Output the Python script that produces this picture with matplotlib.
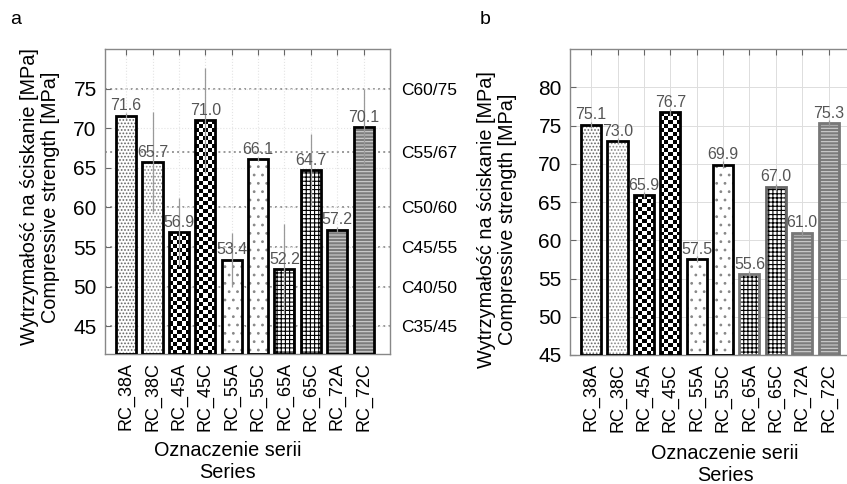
import numpy as np
import matplotlib
matplotlib.use("Agg")
import matplotlib.pyplot as plt

plt.rcParams['font.family'] = ['Liberation Sans', 'DejaVu Sans']
plt.rcParams['hatch.linewidth'] = 0.8

# data
series = ['RC_38A', 'RC_38C', 'RC_45A', 'RC_45C', 'RC_55A',
          'RC_55C', 'RC_65A', 'RC_65C', 'RC_72A', 'RC_72C']
strength_a = [71.6, 65.7, 56.9, 71.0, 53.4, 66.1, 52.2, 64.7, 57.2, 70.1]
error_a = [0.3, 6.3, 4.3, 6.6, 3.4, 0.3, 5.7, 4.6, 0.3, 4.8]
strength_b = [75.1, 73.0, 65.9, 76.7, 57.5, 69.9, 55.6, 67.0, 61.0, 75.3]
error_b = [0.4, 0.4, 0.4, 0.4, 0.4, 0.4, 0.4, 0.4, 0.4, 0.4]
class_levels = [45, 50, 55, 60, 67, 75]
class_labels = ['C35/45', 'C40/50', 'C45/55', 'C50/60', 'C55/67', 'C60/75']

# bar styles: (facecolor, hatch, hatch colour, checker)
STYLES = [
    ('white', '.....', '#666666', False),
    ('white', '.....', '#888888', False),
    ('white', None, None, True),
    ('white', None, None, True),
    ('white', '..', '#888888', False),
    ('white', '..', '#888888', False),
    ('white', '++++', 'black', False),
    ('white', '++++', 'black', False),
    ('#7c7c7c', '-----', '#d0d0d0', False),
    ('#7c7c7c', '-----', '#d0d0d0', False),
]

LABEL = 'Wytrzymałość na ściskanie [MPa]\nCompressive strength [MPa]'
XLABEL = 'Oznaczenie serii\nSeries'


def checker_fill(ax, bar, ppu):
    # checkerboard texture clipped to one bar
    x0, w = bar.get_x(), bar.get_width()
    y0, h = bar.get_y(), bar.get_height()
    cols = 5
    rows = max(1, int(round(h * ppu / 4.0)))
    grid = (np.indices((rows, cols)).sum(axis=0) % 2).astype(float)
    im = ax.imshow(grid, extent=(x0, x0 + w, y0, y0 + h), cmap='gray',
                   interpolation='nearest', aspect='auto', zorder=2)
    im.set_clip_path(bar)


def draw_panel(ax, values, errors, ylim, edgecolors, ppu):
    x = np.arange(1, len(values) + 1)
    base = ylim[0]
    heights = [v - base for v in values]
    for i, (xi, h) in enumerate(zip(x, heights)):
        fc, hatch, hc, checker = STYLES[i]
        if hatch:
            ax.bar(xi, h, bottom=base, width=0.76, facecolor=fc,
                   edgecolor=hc, hatch=hatch, linewidth=0, zorder=2)
        else:
            ax.bar(xi, h, bottom=base, width=0.76, facecolor=fc,
                   linewidth=0, zorder=2)
        outline = ax.bar(xi, h, bottom=base, width=0.76, fill=False,
                         edgecolor=edgecolors[i], linewidth=2, zorder=3)[0]
        if checker:
            checker_fill(ax, outline, ppu)
    ax.errorbar(x, values, yerr=errors, fmt='none', ecolor='#999999',
                elinewidth=0.9, capsize=0, zorder=4)
    for xi, v in zip(x, values):
        ax.text(xi, v + 0.3, f'{v:.1f}', ha='center', va='bottom',
                fontsize=11.5, color='#555555', zorder=5)
    ax.set_xlim(0.2, 11.0)
    ax.set_ylim(*ylim)
    ax.set_xticks(x)
    ax.set_xticklabels(series, rotation=90, fontsize=13)
    ax.tick_params(axis='both', direction='in', length=4, color='#666666',
                   top=True, right=True)
    ax.tick_params(axis='y', labelsize=15, pad=6)
    ax.tick_params(axis='x', pad=6)
    for s in ax.spines.values():
        s.set_color('#888888')
        s.set_linewidth(1)


fig = plt.figure(figsize=(8.47, 4.84), dpi=100)

# panel a
ax_a = fig.add_axes([105 / 847, 1 - 354 / 484, 285 / 847, 305 / 484])
draw_panel(ax_a, strength_a, error_a, (41.5, 80.0), ['black'] * 10, 7.9)
ax_a.set_yticks([45, 50, 55, 60, 65, 70, 75])
ax_a.grid(True, color='#e4e4e4', linestyle=':', linewidth=0.8, zorder=0)
for lvl in class_levels:
    ax_a.axhline(lvl, color='#999999', linestyle=':', linewidth=1.4, zorder=1)
ax_twin = ax_a.twinx()
ax_twin.set_ylim(ax_a.get_ylim())
ax_twin.set_yticks(class_levels)
ax_twin.set_yticklabels(class_labels, fontsize=12.5)
ax_twin.tick_params(axis='y', length=0, pad=8)
for s in ax_twin.spines.values():
    s.set_visible(False)
ax_a.set_ylabel(LABEL, fontsize=14.3, linespacing=1.15)
ax_a.yaxis.set_label_coords(-0.158, 0.515)
ax_a.set_xlabel(XLABEL, fontsize=14.3, linespacing=1.2)
ax_a.xaxis.set_label_coords(0.43, -0.285)
fig.text(10 / 847, 1 - 24 / 484, 'a', fontsize=14)

# panel b
ax_b = fig.add_axes([570 / 847, 1 - 355 / 484, 285 / 847, 306 / 484])
edges_b = ['black'] * 6 + ['#777777', '#666666', '#777777', '#777777']
draw_panel(ax_b, strength_b, error_b, (45.0, 85.0), edges_b, 7.66)
ax_b.set_yticks([45, 50, 55, 60, 65, 70, 75, 80])
ax_b.grid(True, color='#dddddd', linestyle='-', linewidth=0.7, zorder=0)
ax_b.set_ylabel(LABEL, fontsize=14.3, linespacing=1.15)
ax_b.yaxis.set_label_coords(-0.186, 0.444)
ax_b.set_xlabel(XLABEL, fontsize=14.3, linespacing=1.2)
ax_b.xaxis.set_label_coords(0.544, -0.29)
fig.text(480 / 847, 1 - 24 / 484, 'b', fontsize=14)

fig.savefig('out.png', dpi=100)
